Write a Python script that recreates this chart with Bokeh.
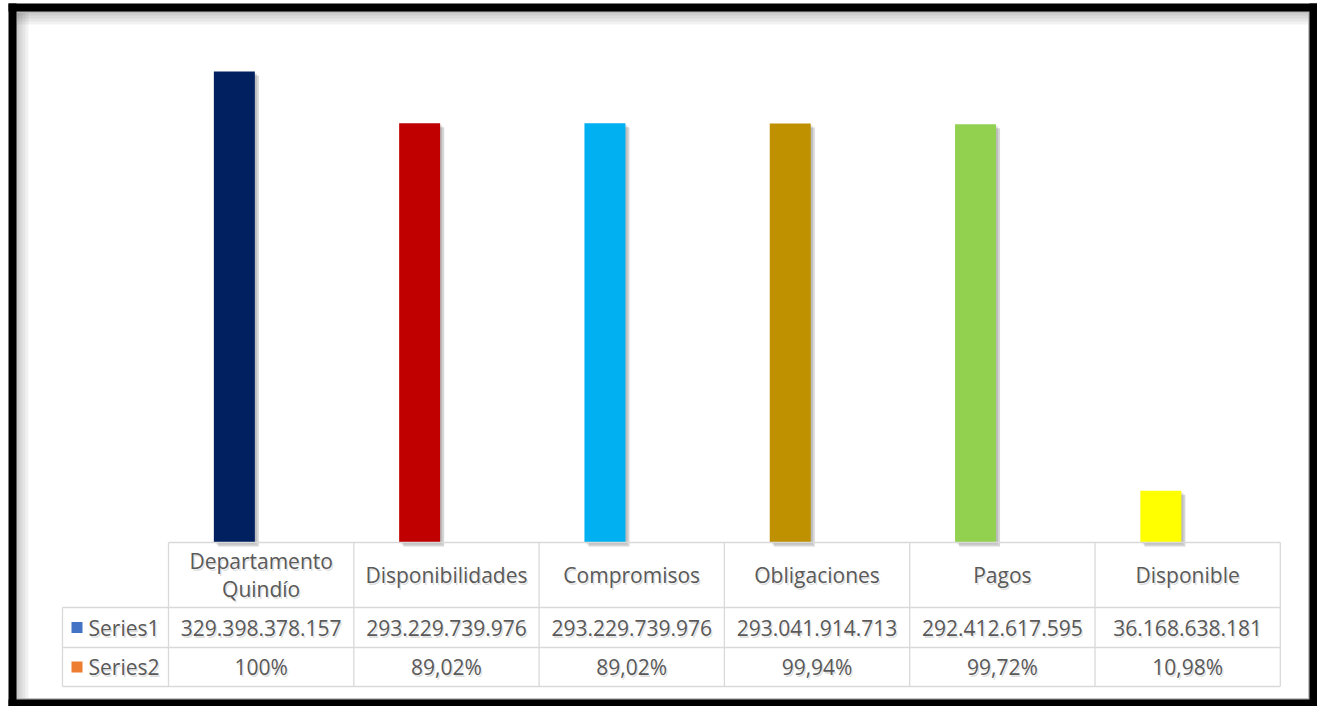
from bokeh.plotting import figure
from bokeh.models import Range1d
from bokeh.core.properties import value
from bokeh.embed import file_html
from bokeh.resources import INLINE

# ---------------- data ----------------
categories = ["Departamento\nQuindío", "Disponibilidades", "Compromisos",
              "Obligaciones", "Pagos", "Disponible"]
series1 = [329398378157, 293229739976, 293229739976,
           293041914713, 292412617595, 36168638181]
series2 = [1.0, 0.8902, 0.8902, 0.9994, 0.9972, 0.1098]
bar_colors = ["#002060", "#C00000", "#00B0F0", "#BF9000", "#92D050", "#FFFF00"]
series_names = ["Series1", "Series2"]
series_colors = ["#4472C4", "#ED7D31"]


def fmt_int(v):
    return f"{v:,}".replace(",", ".")


def fmt_pct(v):
    if abs(v - 1.0) < 1e-9:
        return "100%"
    return f"{v * 100:.2f}".replace(".", ",") + "%"


series1_labels = [fmt_int(v) for v in series1]
series2_labels = [fmt_pct(v) for v in series2]

# ---------------- layout helpers (canvas pixel -> data units) ----------------
COL0_PX, COL_W_PX = 168.0, 185.3          # first table column left edge, column width
BASE_PX, PX_PER_UNIT = 542.0, 1.43e-9     # baseline pixel, pixels per value unit


def rx(px):
    return (px - COL0_PX) / COL_W_PX


def ry(px):
    return (BASE_PX - px) / PX_PER_UNIT


W, H = 1317, 706
p = figure(width=W, height=H, output_backend="svg", toolbar_location=None,
           x_axis_type=None, y_axis_type=None,
           x_range=Range1d(rx(0), rx(W)), y_range=Range1d(ry(H), ry(0)),
           min_border=0, min_border_left=0, min_border_right=0,
           min_border_top=0, min_border_bottom=0)
p.grid.visible = False
p.background_fill_color = "white"
p.border_fill_color = "white"
p.outline_line_color = None

# ---------------- frame decoration ----------------
# inner soft shadow (top and left)
for k in range(1, 5):
    p.quad(left=rx(16), right=rx(1309), top=ry(12), bottom=ry(12 + 3 * k),
           fill_color="#000000", fill_alpha=0.05, line_color=None)
    p.quad(left=rx(16), right=rx(16 + 3 * k), top=ry(12), bottom=ry(699),
           fill_color="#000000", fill_alpha=0.05, line_color=None)
# grey inner line
p.quad(left=rx(15), right=rx(1309), top=ry(11), bottom=ry(699),
       fill_color=None, line_color="#b0b0b0", line_width=2.5)
# black outer frame
p.quad(left=[rx(8), rx(8), rx(8), rx(1309)],
       right=[rx(1317), rx(1317), rx(16), rx(1317)],
       top=[ry(3), ry(699), ry(3), ry(3)],
       bottom=[ry(11), ry(706), ry(706), ry(706)],
       fill_color="#000000", line_color=None)

n = len(categories)
centers = [i + 0.5 for i in range(n)]
bar_offset = -26.8 / COL_W_PX
bar_w = 41.0 / COL_W_PX
bar_x = [c + bar_offset for c in centers]

# bar shadows
sh_dx = 4.0 / COL_W_PX
sh_dy = 4.0 * 1.0 / PX_PER_UNIT
p.vbar(x=[x + sh_dx for x in bar_x], width=bar_w,
       top=[v - sh_dy for v in series1], bottom=-sh_dy,
       fill_color="#000000", fill_alpha=0.16, line_color=None)
p.vbar(x=[x + sh_dx * 0.5 for x in bar_x], width=bar_w,
       top=[v - sh_dy * 0.5 for v in series1], bottom=-sh_dy * 0.5,
       fill_color="#000000", fill_alpha=0.12, line_color=None)
# bars
p.vbar(x=bar_x, width=bar_w, top=series1, bottom=0,
       fill_color=bar_colors, line_color=None)

# ---------------- data table ----------------
grid_col = "#d9d9d9"
y_head_top, y_r1_top, y_r2_top, y_bot = ry(542), ry(607), ry(647), ry(686)
x_leg = rx(62)
x_left, x_right = 0.0, float(n)

x0s, y0s, x1s, y1s = [], [], [], []
x0s += [x_left, x_leg, x_leg, x_leg]
x1s += [x_right] * 4
y0s += [y_head_top, y_r1_top, y_r2_top, y_bot]
y1s += [y_head_top, y_r1_top, y_r2_top, y_bot]
for i in range(n + 1):
    x0s.append(float(i)); x1s.append(float(i))
    y0s.append(y_head_top); y1s.append(y_bot)
x0s.append(x_leg); x1s.append(x_leg); y0s.append(y_r1_top); y1s.append(y_bot)
p.segment(x0=x0s, y0=y0s, x1=x1s, y1=y1s, line_color=grid_col, line_width=1.3)

font = value("Open Sans")
txt_col = "#595959"
fs = "21px"
tdx = 1.5 / COL_W_PX
tdy = 2.0 / PX_PER_UNIT


def table_text(xs, ys, texts, align="center", lh=1.2):
    # soft text shadow
    p.text(x=[x + tdx for x in xs], y=[y - tdy for y in ys], text=texts,
           text_font=font, text_font_size=fs, text_color="#000000", text_alpha=0.13,
           text_align=align, text_baseline="middle", text_line_height=lh)
    p.text(x=xs, y=ys, text=texts,
           text_font=font, text_font_size=fs, text_color=txt_col,
           text_align=align, text_baseline="middle", text_line_height=lh)


table_text(centers, [(y_head_top + y_r1_top) / 2] * n, categories, lh=1.0)
table_text(centers, [(y_r1_top + y_r2_top) / 2] * n, series1_labels)
table_text(centers, [(y_r2_top + y_bot) / 2] * n, series2_labels)

# legend keys inside table
row_mid = [(y_r1_top + y_r2_top) / 2, (y_r2_top + y_bot) / 2]
p.scatter(x=[rx(76.5)] * 2, y=row_mid, marker="square", size=11,
          fill_color=series_colors, line_color=None)
table_text([rx(88)] * 2, row_mid, series_names, align="left")

open("out.html", "w").write(file_html(p, INLINE))
